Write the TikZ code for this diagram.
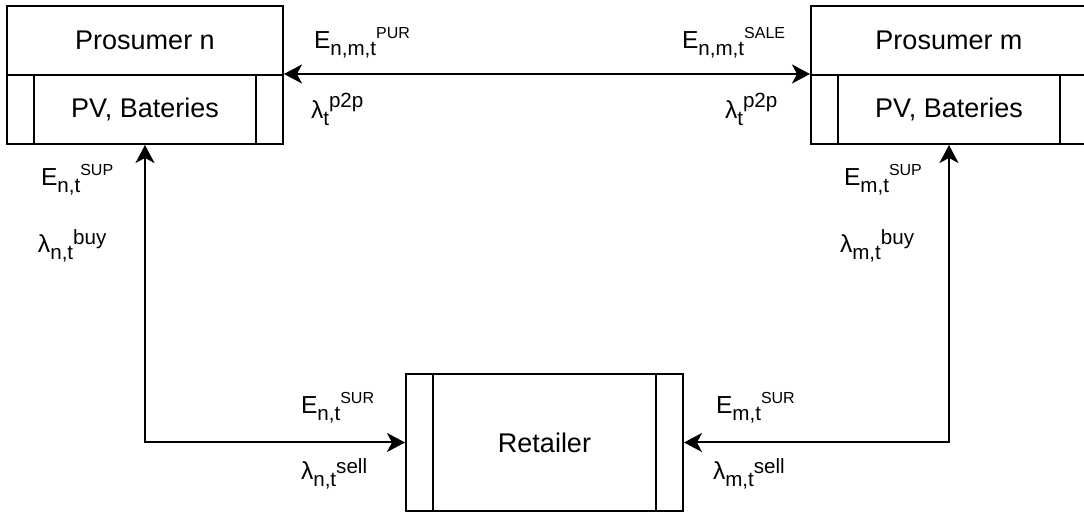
\documentclass[tikz,border=0pt]{standalone}
\usepackage{fontspec}
\setmainfont{Liberation Sans}
\usetikzlibrary{arrows.meta}
\newcommand{\subf}{\fontsize{10.3}{10.3}\selectfont}
\newcommand{\capsup}{\fontsize{8}{8}\selectfont}
\newcommand{\lowsup}{\fontsize{10.3}{10.3}\selectfont}
% base, sub, sup (with font), raise
\newcommand{\lbl}[4]{#1\raisebox{-3.3pt}{\subf #2}\raisebox{#4}{#3}}
\begin{document}
\begin{tikzpicture}[x=0.5pt,y=-0.5pt,
  line width=1pt,
  box/.style={draw,rectangle,minimum width=138pt,minimum height=34.5pt,inner sep=0pt,font=\fontsize{13.5}{16}\selectfont},
  retbox/.style={draw,rectangle,minimum width=138.5pt,minimum height=68.5pt,inner sep=0pt,font=\fontsize{13.5}{16}\selectfont},
  lab/.style={anchor=base west,inner sep=0pt,font=\fontsize{12.3}{14}\selectfont},
  conn/.style={{Stealth[length=9pt,width=9.5pt,inset=2.5pt]}-{Stealth[length=9pt,width=9.5pt,inset=2.5pt]}}
]
\useasboundingbox (0,0) rectangle (1084,512);
\clip (0,0) rectangle (1084,512);
% boxes
\node[box] (pnTop) at (145,40.5) {Prosumer n};
\node[box] (pnBot) at (145,109.5) {PV, Bateries};
\node[box] (pmTop) at (949,40.5) {Prosumer m};
\node[box] (pmBot) at (949,109.5) {PV, Bateries};
\node[retbox] (ret) at (544.5,442.5) {Retailer};
% inner lines
\foreach \n in {pnBot,pmBot,ret}{
  \draw ([xshift=14pt]\n.north west) -- ([xshift=14pt]\n.south west);
  \draw ([xshift=-14pt]\n.north east) -- ([xshift=-14pt]\n.south east);
}
% connectors
\draw[conn] (pnBot.north east) -- (pmBot.north west);
\draw[conn] (pnBot.south) |- (ret.west);
\draw[conn] (pmBot.south) |- (ret.east);
% labels
\node[lab] (l1) at (313,49) {\lbl{E}{n,m,t}{\capsup PUR}{5.3pt}};
\node[lab] (l2) at (310,119) {\lbl{λ}{t}{\lowsup p2p}{5.8pt}};
\node[lab] (l3) at (681,49) {\lbl{E}{n,m,t}{\capsup SALE}{5.3pt}};
\node[lab] (l4) at (724,119) {\lbl{λ}{t}{\lowsup p2p}{5.8pt}};
\node[lab] (l5) at (40,186) {\lbl{E}{n,t}{\capsup SUP}{5.3pt}};
\node[lab] (l6) at (37,253) {\lbl{λ}{n,t}{\lowsup buy}{4.2pt}};
\node[lab] (l7) at (843,186) {\lbl{E}{m,t}{\capsup SUP}{5.3pt}};
\node[lab] (l8) at (839,253) {\lbl{λ}{m,t}{\lowsup buy}{4.2pt}};
\node[lab] (l9) at (300,414) {\lbl{E}{n,t}{\capsup SUR}{5.3pt}};
\node[lab] (l10) at (300,480) {\lbl{λ}{n,t}{\lowsup sell}{3.2pt}};
\node[lab] (l11) at (715,414) {\lbl{E}{m,t}{\capsup SUR}{5.3pt}};
\node[lab] (l12) at (712,480) {\lbl{λ}{m,t}{\lowsup sell}{3.2pt}};
\end{tikzpicture}
\end{document}
